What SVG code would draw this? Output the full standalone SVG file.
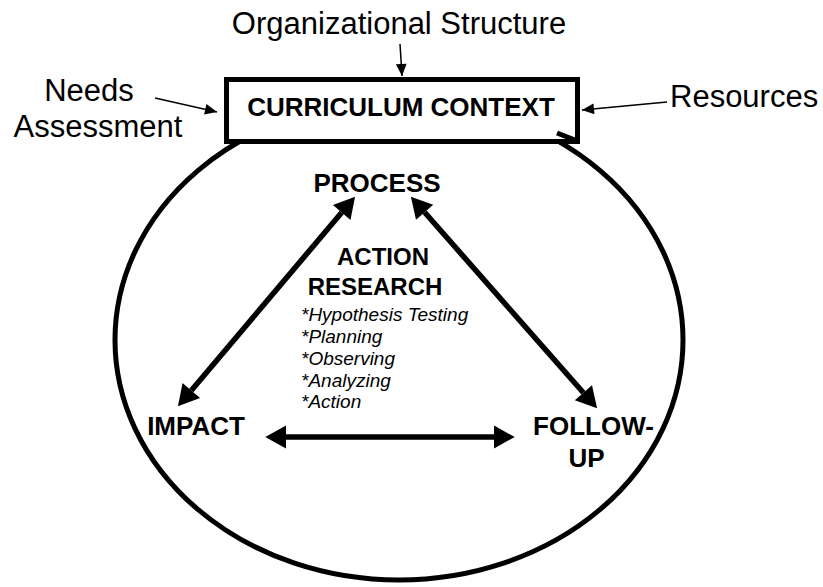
<svg xmlns="http://www.w3.org/2000/svg" width="823" height="587" viewBox="0 0 823 587">
<style>
text{font-family:"Liberation Sans",Arial,sans-serif;fill:#000}
.reg{font-size:31px}
.bold{font-size:26px;font-weight:bold}
.it{font-size:19px;font-style:italic}
.thin{stroke:#000;stroke-width:1.5;fill:none}
.thick{stroke:#000;stroke-width:5.5;fill:none}
</style>
<defs>
<marker id="big" markerUnits="userSpaceOnUse" markerWidth="24" markerHeight="24" viewBox="0 -11 20 22" refX="0" refY="0" orient="auto-start-reverse" overflow="visible">
<path d="M0,-10.5 L19,0 L0,10.5 Z" fill="#000"/>
</marker>
<marker id="small" markerUnits="userSpaceOnUse" markerWidth="12" markerHeight="12" viewBox="0 -5 10 10" refX="10" refY="0" orient="auto" overflow="visible">
<path d="M0,-4.5 L10,0 L0,4.5 Z" fill="#000"/>
</marker>
</defs>
<g id="cycle">
<ellipse cx="399" cy="340" rx="284" ry="240" fill="none" stroke="#000" stroke-width="5"/>
</g>
<g id="context">
<rect x="226.5" y="79.5" width="351" height="62" fill="#fff" stroke="#000" stroke-width="5"/>
<line x1="557" y1="133" x2="575" y2="140" stroke="#000" stroke-width="5"/>
<text class="bold" x="401" y="116" text-anchor="middle">CURRICULUM CONTEXT</text>
</g>
<g id="org">
<text class="reg" x="399" y="34" text-anchor="middle">Organizational Structure</text>
</g>
<g id="needs">
<text class="reg" x="89" y="101" text-anchor="middle">Needs</text>
<text class="reg" x="98" y="137" text-anchor="middle">Assessment</text>
</g>
<g id="resources">
<text class="reg" x="670" y="107">Resources</text>
</g>
<g id="process"><text class="bold" x="377" y="192" text-anchor="middle">PROCESS</text></g>
<g id="action-research">
<text class="bold" x="383" y="265" text-anchor="middle" style="font-size:24px">ACTION</text>
<text class="bold" x="375" y="295" text-anchor="middle" style="font-size:24px">RESEARCH</text>
<text class="it" x="301" y="321">*Hypothesis Testing</text>
<text class="it" x="301" y="343">*Planning</text>
<text class="it" x="301" y="365">*Observing</text>
<text class="it" x="301" y="386.5">*Analyzing</text>
<text class="it" x="301" y="408">*Action</text>
</g>
<g id="impact"><text class="bold" x="196" y="435" text-anchor="middle">IMPACT</text></g>
<g id="followup">
<text class="bold" x="593.5" y="435" text-anchor="middle">FOLLOW-</text>
<text class="bold" x="586.5" y="467" text-anchor="middle">UP</text>
</g>
<g id="connectors">
<line class="thin" x1="400" y1="44" x2="402" y2="76" marker-end="url(#small)"/>
<line class="thin" x1="155" y1="98" x2="217" y2="112" marker-end="url(#small)"/>
<line class="thin" x1="667" y1="102" x2="582" y2="110" marker-end="url(#small)"/>
<line class="thick" x1="341.7" y1="212.5" x2="191.3" y2="390.5" marker-start="url(#big)" marker-end="url(#big)"/>
<line class="thick" x1="424.6" y1="212.3" x2="583.4" y2="392.7" marker-start="url(#big)" marker-end="url(#big)"/>
<line class="thick" x1="286" y1="437" x2="494" y2="437" marker-start="url(#big)" marker-end="url(#big)"/>
</g>
</svg>
